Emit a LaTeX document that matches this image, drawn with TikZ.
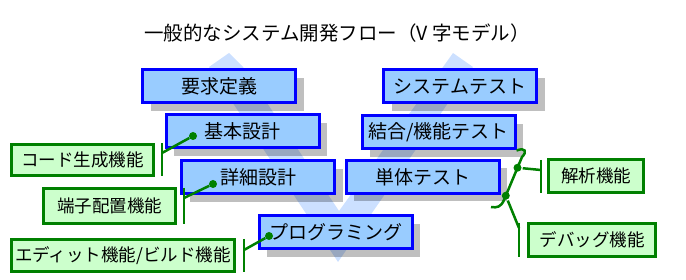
\documentclass[tikz,border=0pt]{standalone}
\usepackage{fontspec}
\setmainfont{Noto Sans CJK JP}
\usetikzlibrary{shadows}
\definecolor{vband}{RGB}{204,224,255}
\definecolor{stepblue}{RGB}{153,204,255}
\definecolor{toolgreen}{RGB}{0,128,0}
\definecolor{toolfill}{RGB}{204,255,204}

\begin{document}
\begin{tikzpicture}[x=1pt,y=-1pt,
  phase/.style={draw=blue,line width=3pt,fill=stepblue,minimum width=153pt,minimum height=33pt,inner sep=0pt,
    font=\fontsize{19}{19}\selectfont,drop shadow={shadow xshift=8pt,shadow yshift=-8pt,fill=black,opacity=.25}},
  tool/.style={draw=toolgreen,line width=3pt,fill=toolfill,inner sep=0pt,font=\fontsize{17.5}{17.5}\selectfont},
  link/.style={toolgreen,line width=2.5pt},
  pin/.style={circle,fill=toolgreen,inner sep=0pt,minimum size=8pt}]
\useasboundingbox (0,0) rectangle (686,280);
\node[font=\fontsize{19.5}{19.5}\selectfont] (title) at (337,33) {一般的なシステム開発フロー（V 字モデル）};
% the V behind the steps
\fill[vband] (229,53) -- (209,67) -- (338,262) -- (473,67) -- (453,53) -- (443,67) -- (339,211) -- (243,67) -- cycle;
% left arm
\node[phase] (req) at (219,86.5) {要求定義};
\node[phase] (basic) at (242.5,131.5) {基本設計};
\node[phase] (detail) at (258,177.5) {詳細設計};
\node[phase] (prog) at (335.5,232.5) {プログラミング};
% right arm
\node[phase] (systest) at (460,86.5) {システムテスト};
\node[phase] (inttest) at (438.5,132.5) {結合/機能テスト};
\node[phase] (unittest) at (422.5,177) {単体テスト};
% tool functions
\node[tool,minimum width=142pt,minimum height=31pt] (gen) at (82.5,160) {コード生成機能};
\node[tool,minimum width=132pt,minimum height=35pt] (term) at (109.5,206) {端子配置機能};
\node[tool,minimum width=223pt,minimum height=32pt] (edit) at (123,255.5) {エディット機能/ビルド機能};
\node[tool,minimum width=95pt,minimum height=33pt] (anal) at (596,176) {解析機能};
\node[tool,minimum width=127pt,minimum height=33pt] (debug) at (592,240) {デバッグ機能};
% ticks
\coordinate (genTick) at (162,153);
\coordinate (termTick) at (184,198);
\coordinate (editTick) at (244,250);
\coordinate (analTick) at (541,170);
\coordinate (debugTick) at (519,228);
\draw[link] (genTick) ++(0,-10) -- ++(0,33);
\draw[link] (termTick) ++(0,-10) -- ++(0,36);
\draw[link] (editTick) ++(0,-11) -- ++(0,33);
\draw[link] (analTick) ++(0,-10) -- ++(0,33);
\draw[link] (debugTick) ++(0,-5) -- ++(0,34);
% pins on the left steps
\node[pin] (genPin) at (193,136) {};
\node[pin] (termPin) at (213,184) {};
\node[pin] (editPin) at (269,236) {};
\draw[link] (genPin) -- (genTick);
\draw[link] (termPin) -- (termTick);
\draw[link] (editPin) -- (editTick);
% brace on the test side
\draw[link] (inttest.south east) .. controls (526,147) and (527,152) .. (522,157)
  -- node[pin,pos=.25] (analPin) {} node[pin,pos=.9] (debugPin) {} (504,200)
  .. controls (501,207) and (497,208) .. (491,207);
\draw[link] (analPin) -- (analTick);
\draw[link] (debugPin) -- (debugTick);
\end{tikzpicture}
\end{document}
